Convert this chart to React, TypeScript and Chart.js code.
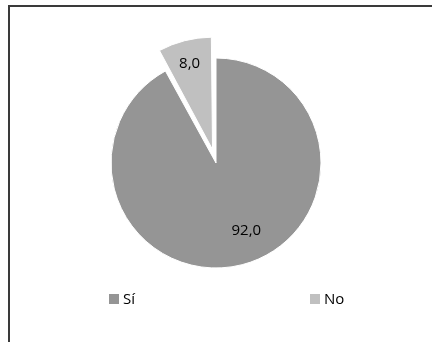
import React, { useEffect, useRef } from "react";
import { Chart, registerables } from "chart.js";

Chart.register(...registerables);

const categories = ["Sí", "No"];
const values = [92.0, 8.0];
const colors = ["#959595", "#c0c0c0"];
const explode = [0, 56];

const FONT = "'Open Sans', 'DejaVu Sans', sans-serif";

// label placement style: fraction of radius and a small nudge (px)
const labelStyle = [
  { frac: 0.7, dx: 12, dy: -3 },
  { frac: 0.84, dx: -1, dy: 0 },
];

const valueLabels = {
  id: "valueLabels",
  afterDatasetsDraw(chart: any) {
    const ctx = chart.ctx;
    const meta = chart.getDatasetMeta(0);
    ctx.save();
    ctx.fillStyle = "#000000";
    ctx.font = `15px ${FONT}`;
    ctx.textAlign = "center";
    ctx.textBaseline = "middle";
    meta.data.forEach((arc: any, i: number) => {
      const p = arc.getProps(["x", "y", "startAngle", "endAngle", "outerRadius"], true);
      const mid = (p.startAngle + p.endAngle) / 2;
      const off = (arc.options.offset || 0) / 4;
      const s = labelStyle[i];
      const r = p.outerRadius * s.frac + off;
      const x = p.x + Math.cos(mid) * r + s.dx;
      const y = p.y + Math.sin(mid) * r + s.dy;
      const txt = values[i].toFixed(1).replace(".", ",");
      ctx.fillText(txt, x, y);
    });
    ctx.restore();
  },
};

export default function App() {
  const ref = useRef<HTMLCanvasElement | null>(null);
  useEffect(() => {
    if (!ref.current) return;
    const chart = new Chart(ref.current, {
      type: "pie",
      data: {
        labels: categories,
        datasets: [
          {
            data: values,
            backgroundColor: colors,
            borderColor: "#ffffff",
            borderWidth: 1,
            offset: explode,
          },
        ],
      },
      options: {
        animation: false,
        responsive: false,
        maintainAspectRatio: false,
        radius: 105,
        layout: { padding: { left: 0, right: 0, top: 0, bottom: 16 } },
        plugins: {
          legend: { display: false },
          tooltip: { enabled: false },
        },
      } as any,
      plugins: [valueLabels],
    });
    return () => chart.destroy();
  }, []);

  return (
    <div style={{ position: "absolute", left: 0, top: 0, width: 432, height: 342, overflow: "hidden", background: "#fff" }}>
      <div
        style={{
          position: "absolute",
          left: 8,
          top: 5,
          width: 600,
          height: 600,
          borderTop: "2px solid #3a3a3a",
          borderLeft: "2px solid #3a3a3a",
        }}
      />
      <canvas ref={ref} width={432} height={342} style={{ position: "absolute", left: 0, top: 0, width: 432, height: 342 }} />
      <div
        style={{
          position: "absolute",
          left: 109,
          top: 291,
          display: "grid",
          gridTemplateColumns: "201px auto",
          fontFamily: FONT,
          fontSize: 15,
          lineHeight: "15px",
          color: "#000",
        }}
      >
        {categories.map((c, i) => (
          <div key={c} style={{ display: "flex", alignItems: "center" }}>
            <span style={{ display: "inline-block", width: 10, height: 10, background: colors[i], marginRight: 4 }} />
            <span>{c}</span>
          </div>
        ))}
      </div>
    </div>
  );
}
